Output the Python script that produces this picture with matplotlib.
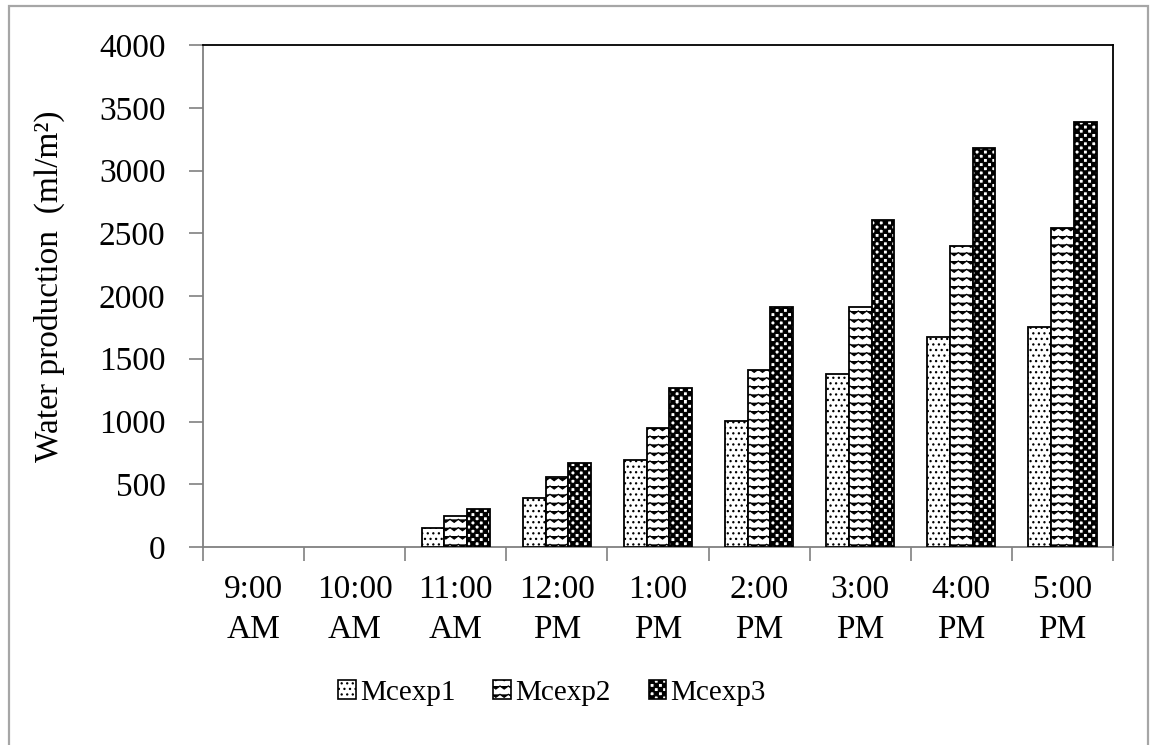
import warnings
warnings.filterwarnings('ignore')
import numpy as np
import matplotlib
matplotlib.use('Agg')
import matplotlib.pyplot as plt
from matplotlib import hatch as mhatch
from matplotlib.path import Path
from matplotlib.patches import Rectangle, Patch

# ---------------- data ----------------
categories = ["9:00\nAM", "10:00\nAM", "11:00\nAM", "12:00\nPM", "1:00\nPM",
              "2:00\nPM", "3:00\nPM", "4:00\nPM", "5:00\nPM"]
mcexp1 = [0, 0, 150, 390, 690, 1005, 1375, 1675, 1755]
mcexp2 = [0, 0, 245, 560, 950, 1410, 1910, 2400, 2545]
mcexp3 = [0, 0, 300, 670, 1265, 1915, 2605, 3180, 3385]
series_names = ["Mcexp1", "Mcexp2", "Mcexp3"]
yticks = [0, 500, 1000, 1500, 2000, 2500, 3000, 3500, 4000]


# ------------- custom hatch patterns -------------
class WaveHatch(mhatch.HatchPatternBase):
    """Rows of small zig-zag waves, drawn for the '~' character."""
    def __init__(self, hatch, density):
        self.num_rows = hatch.count('~') * density
        self.num_cols = self.num_rows
        self.pts_per_row = 2 * self.num_cols + 1
        self.num_vertices = self.num_rows * self.pts_per_row if self.num_rows else 0
        self.filled = False

    def set_vertices_and_codes(self, vertices, codes):
        step = 1.0 / self.num_rows
        amp = step * 0.18
        k = 0
        for r in range(self.num_rows):
            y0 = (r + 0.5) * step
            for c in range(self.pts_per_row):
                x = c * step / 2.0
                y = y0 + (amp if c % 2 == 0 else -amp)
                vertices[k] = (x, y)
                codes[k] = Path.MOVETO if c == 0 else Path.LINETO
                k += 1


class CheckerHatch(mhatch.HatchPatternBase):
    """Filled checkerboard, drawn for the '#' character."""
    def __init__(self, hatch, density):
        self.n = hatch.count('#') * density
        cells = sum(1 for i in range(self.n) for j in range(self.n) if (i + j) % 2 == 0)
        self.num_vertices = cells * 5 if self.n else 0
        self.filled = True

    def set_vertices_and_codes(self, vertices, codes):
        s = 1.0 / self.n
        k = 0
        for i in range(self.n):
            for j in range(self.n):
                if (i + j) % 2:
                    continue
                x0, y0 = i * s, j * s
                vertices[k:k + 5] = [(x0, y0), (x0 + s, y0), (x0 + s, y0 + s),
                                     (x0, y0 + s), (x0, y0)]
                codes[k:k + 5] = [Path.MOVETO, Path.LINETO, Path.LINETO,
                                  Path.LINETO, Path.CLOSEPOLY]
                k += 5


mhatch._hatch_types.append(WaveHatch)
mhatch._hatch_types.append(CheckerHatch)

plt.rcParams['font.family'] = ['Liberation Serif', 'DejaVu Serif']
plt.rcParams['hatch.linewidth'] = 0.9
plt.rcParams['hatch.color'] = 'black'

hatches = ['...', '~~', '####']

fig = plt.figure(figsize=(11.53, 7.45), dpi=100)
ax = fig.add_axes([203 / 1153, 1 - 547 / 745, 910 / 1153, 502 / 745])

x = np.arange(len(categories))
w = 0.225
for k, (vals, name, h) in enumerate(zip([mcexp1, mcexp2, mcexp3], series_names, hatches)):
    bars = ax.bar(x + (k - 1) * w, vals, w, facecolor='white', edgecolor='black',
                  linewidth=1.3, hatch=h, label=name, zorder=3)
    for rect in bars:
        if rect.get_height() == 0:
            rect.set_visible(False)

ax.set_xlim(-0.5, len(categories) - 0.5)
ax.set_ylim(0, 4000)
ax.set_yticks(yticks)
ax.set_yticklabels([str(v) for v in yticks], fontsize=24)
ax.set_xticks(x)
ax.set_xticklabels(categories, fontsize=24, linespacing=1.4)
ax.set_xticks(np.arange(len(categories) + 1) - 0.5, minor=True)
ax.tick_params(axis='x', which='major', length=0, pad=20)
ax.tick_params(axis='x', which='minor', length=10, color='#808080', width=1.2, direction='out')
ax.tick_params(axis='y', which='major', length=10, color='#808080', width=1.2,
               direction='out', pad=17)

for side in ['left', 'bottom']:
    ax.spines[side].set_color('#808080')
    ax.spines[side].set_linewidth(1.3)
for side in ['top', 'right']:
    ax.spines[side].set_color('black')
    ax.spines[side].set_linewidth(1.3)

ax.set_ylabel("Water production  (ml/m\u00b2)", fontsize=24)
ax.yaxis.set_label_coords(-0.152, 0.52)

handles = [Patch(facecolor='white', edgecolor='black', hatch=h, linewidth=1.2)
           for h in hatches]
fig.legend(handles, series_names, loc='center', bbox_to_anchor=(552 / 1153, 1 - 693 / 745),
           ncol=3, frameon=False, fontsize=21, handlelength=0.6, handleheight=0.6,
           handletextpad=0.15, columnspacing=1.3)

# outer frame
fig.patches.append(Rectangle((9 / 1153, -0.05), (1148 - 9) / 1153, 1.05 - 6 / 745,
                             transform=fig.transFigure, fill=False,
                             edgecolor='#a6a6a6', linewidth=1.6))

fig.savefig('out.png', dpi=100)
